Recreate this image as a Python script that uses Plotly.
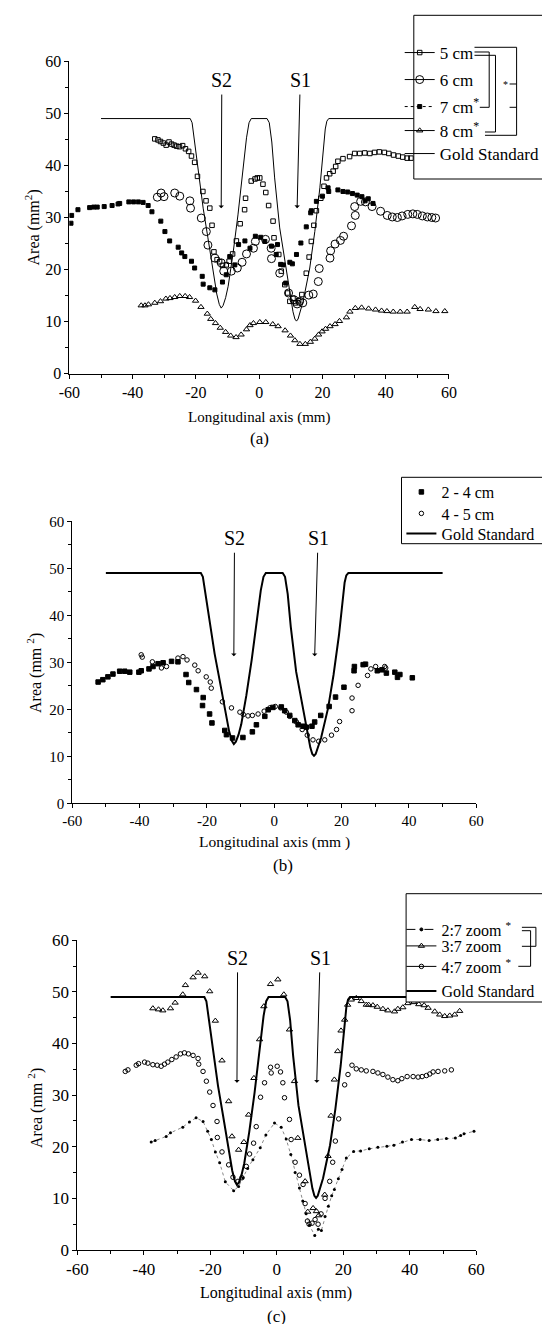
import plotly.graph_objects as go

W, H = 550, 1324
SERIF = "Liberation Serif, Times New Roman, serif"

# gold standard phantom profile (same in all panels)
GOLD_X = [-50, -21.8, -21.2, -20.6, -19.3, -17.7, -16.2, -14.6, -13.4, -12.6, -12.0, -11.4, -10.6, -9.8,
          -8.3, -6.7, -5.1, -4.0, -3.2, -2.5, 2.5, 3.2, 4.0, 4.9, 6.5, 8.1, 9.7, 10.7, 11.3, 11.8, 12.3,
          13.0, 13.9, 16.0, 17.6, 19.2, 20.2, 20.9, 21.4, 22.0, 50]
GOLD_Y = [49, 49, 48.2, 45.5, 38.9, 31.8, 26.1, 19.7, 15.3, 13.3, 12.6, 13.1, 14.6, 16.8,
          22.9, 30.5, 38.9, 45.3, 48.2, 49, 49, 48.2, 44.5, 37.6, 28.0, 21.6, 15.2, 11.9, 10.5, 10.1, 10.5,
          11.8, 13.9, 20.3, 27.3, 35.7, 43.3, 47.0, 48.5, 49, 49]

# panel (a)
A5_X = [-33.0, -32.0, -31.2, -30.3, -29.4, -28.5, -27.7, -26.9, -26.1, -25.2, -24.2, -23.3, -22.3, -21.4,
        -20.4, -19.5, -17.8, -16.8, -15.6, -14.9, -14.3, -13.3, -12.5, -11.6, -10.4, -9.5, -8.4, -7.2,
        -6.0, -4.6, -4.3, -2.5, -1.3, -0.6, 0.2, 1.2, 2.1, 3.0, 4.4, 4.7, 6.2, 7.0, 8.1, 9.0, 9.7, 10.7,
        11.5, 12.5, 13.5, 14.9, 15.8, 16.5, 17.3, 18.1, 19.5, 20.5, 21.3, 22.3, 23.4, 24.2, 24.9, 26.5,
        28.6, 30.2, 31.8, 33.4, 35.0, 36.5, 38.0, 39.6, 41.0, 42.5, 44.0, 45.4, 46.8, 48.0]
A5_Y = [45.1, 44.9, 44.6, 44.3, 43.9, 44.5, 44.1, 43.9, 43.7, 43.6, 43.8, 43.2, 42.7, 41.8,
        40.6, 37.9, 35.0, 33.2, 31.8, 28.5, 23.4, 21.9, 21.5, 20.8, 20.9, 21.6, 23.0, 25.5,
        28.8, 31.5, 33.7, 37.0, 37.4, 37.6, 37.6, 36.4, 34.8, 32.3, 29.3, 26.1, 22.9, 19.7, 17.1, 15.5, 13.9, 14.5,
        13.6, 14.0, 15.2, 19.3, 22.4, 25.4, 28.5, 31.3, 33.7, 36.0, 37.6, 38.4, 38.9, 39.8, 40.8, 41.3,
        41.7, 42.3, 42.3, 42.4, 42.3, 42.5, 42.6, 42.5, 42.3, 42.0, 41.8, 41.6, 41.4, 41.4]

A6_X = [-32.2, -31.0, -30.1, -26.7, -25.1, -21.9, -21.7, -18.3, -16.7, -16.2, -14.0, -12.0, -11.2, -8.8,
        -6.9, -5.4, -4.0, -1.8, -1.2, 2.0, 3.8, 3.9, 6.5, 9.3, 11.0, 12.0, 12.8, 13.8, 15.7, 17.1, 18.7,
        19.0, 22.4, 22.6, 24.0, 25.7, 26.7, 29.2, 30.4, 30.2, 32.1, 33.6, 35.7, 38.4, 40.5, 42.1, 43.7,
        45.2, 47.0, 48.6, 50.0, 51.6, 53.2, 54.6, 55.8]
A6_Y = [33.9, 34.7, 34.0, 34.7, 34.1, 33.2, 31.8, 29.9, 27.3, 24.7, 22.2, 21.3, 19.7, 19.7,
        20.3, 21.4, 23.0, 24.1, 25.4, 25.8, 24.1, 22.1, 19.3, 15.5, 14.2, 13.4, 13.9, 13.6, 15.1, 15.3, 17.7,
        20.2, 22.2, 23.6, 24.9, 25.6, 26.4, 28.4, 30.4, 32.1, 33.1, 33.0, 32.1, 31.2, 30.4, 30.1, 30.0,
        30.3, 30.6, 30.7, 30.6, 30.3, 30.1, 30.0, 29.9]

A7_X = [-59.5, -59.3, -57.3, -53.6, -52.3, -51.2, -49.0, -46.5, -44.6, -44.1, -41.2, -39.7, -38.2, -36.7,
        -35.1, -33.9, -31.1, -29.8, -28.3, -25.6, -24.5, -23.5, -21.4, -20.4, -18.0, -17.7, -15.6, -14.0,
        -11.6, -10.4, -9.3, -7.7, -6.5, -4.5, -2.9, -1.2, 0.5, 1.8, 3.9, 5.4, 5.8, 6.8, 7.6, 8.4, 9.7,
        10.5, 11.8, 13.2, 14.9, 16.3, 16.5, 18.1, 20.0, 21.8, 22.0, 24.9, 26.5, 28.0, 29.5, 31.0, 32.5,
        33.5, 34.5, 36.0]
A7_Y = [28.9, 30.4, 31.5, 31.9, 32.0, 32.0, 32.1, 32.3, 32.6, 32.7, 33.0, 33.0, 33.0, 32.9,
        32.3, 31.1, 29.3, 27.3, 25.5, 24.3, 23.2, 22.5, 21.6, 20.3, 18.7, 17.2, 16.5, 16.1,
        17.6, 19.0, 22.5, 20.9, 24.8, 25.5, 24.1, 26.4, 26.2, 25.4, 24.5, 22.9, 24.8, 21.0, 20.9, 17.4, 21.4,
        21.1, 22.9, 25.1, 28.2, 30.9, 31.3, 33.1, 34.1, 35.7, 35.0, 35.3, 35.0, 34.9, 34.6, 34.3, 34.0,
        33.2, 33.6, 32.7]

A8_X = [-37.3, -36.1, -35.0, -33.0, -31.2, -29.5, -28.2, -26.7, -25.1, -23.4, -22.0, -20.1, -18.4, -16.4,
        -15.3, -13.8, -12.3, -10.6, -9.0, -7.3, -5.7, -4.0, -2.9, -1.8, 0.2, 2.1, 4.3, 6.0, 8.2, 9.9,
        11.3, 12.9, 14.6, 16.2, 17.6, 18.8, 19.9, 21.0, 22.4, 24.0, 25.4, 27.6, 28.7, 30.4, 32.4, 34.6,
        36.8, 38.7, 40.4, 42.4, 44.6, 46.8, 49.2, 50.9, 53.5, 55.9, 58.7]
A8_Y = [13.1, 13.1, 13.3, 13.6, 13.9, 14.4, 14.5, 14.7, 14.9, 14.9, 14.7, 14.0, 12.8, 11.5,
        10.5, 9.7, 8.8, 8.0, 7.3, 7.0, 7.5, 8.5, 9.3, 9.7, 9.9, 9.9, 9.5, 9.1, 8.3, 7.3,
        6.4, 5.7, 5.7, 6.1, 6.7, 7.5, 8.1, 8.6, 9.1, 9.5, 10.1, 10.8, 11.9, 12.6, 12.7, 12.5,
        12.3, 12.1, 12.0, 11.9, 11.9, 11.9, 12.8, 12.4, 12.3, 12.0, 12.0]

# panel (b)
B24_X = [-52.3, -50.9, -49.4, -47.9, -45.9, -44.4, -42.9, -40.2, -39.5, -37.2, -36.0, -34.5, -33.0, -30.5,
         -28.6, -26.2, -25.4, -23.1, -21.1, -21.3, -19.2, -18.5, -14.7, -14.2, -12.4, -9.3, -6.5, -5.3,
         -2.8, -1.8, -0.4, 2.1, 3.1, 4.6, 6.1, 7.1, 8.6, 9.5, 11.2, 12.0, 13.8, 16.3, 18.2, 20.7, 23.7,
         23.8, 26.4, 27.1, 30.6, 32.0, 33.3, 35.8, 36.6, 37.3, 41.0]
B24_Y = [25.8, 26.3, 26.9, 27.5, 28.1, 28.1, 27.9, 27.9, 28.2, 28.6, 29.1, 29.7, 29.9, 30.2,
         30.1, 27.4, 25.7, 24.2, 22.5, 20.8, 19.0, 17.1, 15.5, 14.6, 13.9, 14.0, 15.2, 16.7,
         18.5, 19.9, 20.4, 20.5, 19.7, 18.7, 17.6, 16.7, 16.4, 16.2, 16.4, 17.3, 18.7, 20.6, 22.6, 24.7, 28.2,
         29.1, 29.5, 29.6, 28.2, 28.4, 27.7, 27.9, 26.8, 27.4, 26.7]

B45_X = [-39.5, -39.2, -36.2, -33.5, -32.0, -28.6, -27.1, -25.9, -23.6, -22.6, -20.2, -19.0, -18.7, -15.4,
         -12.7, -10.2, -9.2, -7.8, -6.5, -4.8, -3.0, -1.3, 0.3, 1.9, 3.6, 4.6, 6.6, 8.3, 9.8, 11.5, 13.2,
         15.0, 17.0, 18.5, 19.4, 23.1, 23.1, 24.9, 27.7, 28.7, 30.1, 32.8, 33.1]
B45_Y = [31.6, 31.1, 30.1, 28.8, 29.1, 30.9, 31.2, 30.5, 29.4, 28.2, 26.9, 25.8, 24.5, 21.6,
         20.3, 19.4, 18.9, 18.6, 18.7, 19.0, 19.6, 20.3, 20.6, 20.3, 19.4, 18.5, 17.3, 15.7, 14.5, 13.5, 13.2,
         13.5, 14.5, 15.7, 17.4, 19.7, 22.4, 25.1, 27.2, 28.6, 29.1, 29.1, 28.8]

# panel (c)
C27_X = [-37.8, -36.6, -33.3, -32.0, -28.3, -26.3, -24.3, -22.2, -20.8, -19.7, -18.5, -17.2, -15.5, -13.0,
         -11.5, -10.2, -8.8, -7.2, -5.0, -3.3, -0.7, 1.3, 2.8, 4.2, 5.5, 6.8, 7.8, 8.8, 9.8, 11.4, 12.5,
         13.4, 14.5, 15.5, 16.5, 17.3, 18.5, 19.6, 20.9, 23.1, 25.2, 27.8, 30.4, 33.1, 35.2, 37.8, 40.5,
         43.1, 45.8, 48.4, 51.0, 53.7, 55.3, 56.3, 59.3]
C27_Y = [20.9, 21.2, 22.0, 22.7, 23.8, 24.8, 25.6, 24.9, 23.0, 21.4, 19.0, 16.9, 13.2, 11.5,
         12.3, 14.0, 15.8, 17.5, 19.8, 22.3, 24.6, 23.8, 21.5, 18.5, 15.0, 12.0, 9.5, 7.0, 4.8, 2.8, 4.0,
         3.8, 6.5, 8.5, 10.5, 11.7, 13.8, 15.6, 17.8, 19.1, 19.2, 19.6, 19.9, 20.1, 20.3, 20.9, 21.4,
         21.4, 21.2, 21.4, 21.6, 21.7, 22.2, 22.5, 23.0]

C37_X = [-37.3, -35.6, -34.3, -32.0, -30.6, -28.3, -27.5, -25.2, -23.7, -21.7, -20.2, -18.5, -16.5, -14.5,
         -13.5, -11.5, -9.9, -8.5, -6.9, -5.2, -3.9, -1.9, 0.3, 2.1, 3.8, 5.3, 6.3, 8.5, 9.3, 10.9, 11.9,
         12.6, 14.4, 15.4, 16.3, 17.3, 18.3, 19.3, 20.4, 21.3, 22.4, 23.9, 25.4, 26.9, 27.6, 28.9, 30.2,
         31.9, 33.4, 35.4, 36.4, 37.9, 39.4, 41.2, 42.7, 44.3, 45.5, 47.5, 49.0, 50.5, 52.0, 53.5, 55.0]
C37_Y = [46.8, 46.6, 46.4, 46.8, 47.9, 49.5, 51.3, 52.8, 53.7, 53.0, 50.1, 44.4, 36.7, 28.8,
         22.0, 19.4, 20.9, 26.2, 33.3, 40.8, 47.2, 51.5, 52.4, 49.5, 42.7, 32.7, 21.7, 13.3, 7.4, 8.1, 7.5,
         6.7, 10.7, 18.2, 26.0, 33.0, 38.5, 42.5, 44.6, 47.5, 48.5, 48.8, 48.2, 47.5, 47.5, 47.4, 47.1,
         46.7, 46.4, 46.2, 46.7, 47.0, 47.8, 48.0, 47.6, 47.4, 46.9, 46.2, 45.6, 45.3, 45.4, 45.6, 46.3]

C47_X = [-45.6, -44.8, -42.3, -41.6, -39.8, -38.8, -37.3, -36.0, -34.8, -33.8, -32.8, -31.6, -30.3, -29.0,
         -27.8, -26.6, -25.2, -23.7, -23.5, -22.2, -21.2, -20.2, -19.2, -18.0, -17.9, -16.5, -14.5, -13.2,
         -11.7, -10.5, -9.2, -8.2, -7.0, -6.2, -4.9, -3.7, -1.9, -1.7, 0.1, 1.1, 1.8, 2.3, 3.8, 4.3, 5.5,
         6.8, 7.9, 8.5, 9.2, 9.7, 10.6, 11.5, 12.4, 13.3, 14.5, 15.9, 16.8, 17.6, 18.6, 20.4, 21.4, 22.6,
         23.9, 25.4, 26.9, 28.9, 30.4, 31.9, 33.4, 34.9, 36.4, 37.6, 39.2, 41.0, 42.5, 43.7, 45.0, 46.0,
         47.0, 48.5, 50.5, 52.5]
C47_Y = [34.6, 34.9, 35.8, 36.1, 36.4, 36.2, 35.9, 35.8, 35.6, 36.0, 36.4, 36.9, 37.4, 38.0,
         38.2, 38.0, 37.7, 37.1, 36.0, 34.6, 32.7, 30.6, 28.0, 24.9, 21.8, 19.0, 16.5, 14.1,
         13.3, 14.0, 16.2, 18.6, 20.7, 23.9, 29.6, 32.4, 35.4, 34.3, 35.6, 34.5, 32.4, 29.5, 25.3, 21.4, 17.0,
         14.5, 12.7, 9.0, 5.6, 5.0, 5.2, 5.9, 5.0, 7.0, 10.0, 13.3, 17.0, 21.1, 25.4, 32.0, 34.0, 35.8,
         35.1, 34.9, 34.7, 34.6, 34.3, 34.0, 33.5, 33.0, 32.8, 33.2, 33.6, 33.6, 33.5, 33.6, 33.8, 34.1,
         34.5, 34.6, 34.7, 34.9]

X_TICKS = [-60, -40, -20, 0, 20, 40, 60]
X_TICK_TEXT = ["-60", "-40", "-20", "0", "20", "40", "60"]
Y_TICKS = [0, 10, 20, 30, 40, 50, 60]

# stenosis positions (mm)
S2_X, S1_X = -12, 12


def px_x(p):
    return p / W


def px_y(p):
    return 1 - p / H


def path(points):
    return "M " + " L ".join(f"{px_x(a):.5f},{px_y(b):.5f}" for a, b in points)


fig = go.Figure()

# ---- panel (a)
fig.add_trace(go.Scatter(x=GOLD_X, y=GOLD_Y, mode="lines", line=dict(color="black", width=1),
                         showlegend=False, xaxis="x", yaxis="y"))
mk_a = [
    (A5_X, A5_Y, "5 cm", dict(symbol="square-open", size=4.5), "solid"),
    (A6_X, A6_Y, "6 cm", dict(symbol="circle-open", size=8), "solid"),
    (A7_X, A7_Y, "7 cm<sup>*</sup>", dict(symbol="square", size=4), "dot"),
    (A8_X, A8_Y, "8 cm<sup>*</sup>", dict(symbol="triangle-up-open", size=5.5), "solid"),
]
for i, (xs, ys, name, m, dash) in enumerate(mk_a):
    m = dict(m, color="black", line=dict(color="black", width=1))
    fig.add_trace(go.Scatter(x=xs, y=ys, mode="markers", marker=m, showlegend=False, xaxis="x", yaxis="y"))
    fig.add_trace(go.Scatter(x=[None], y=[None], mode="lines+markers", name=name, marker=m,
                             line=dict(color="black", width=1, dash=dash),
                             legend="legend" if i == 0 else f"legend{i + 1}", xaxis="x", yaxis="y"))
fig.add_trace(go.Scatter(x=[None], y=[None], mode="lines", name="Gold Standard",
                         line=dict(color="black", width=1), legend="legend5", xaxis="x", yaxis="y"))

# ---- panel (b)
fig.add_trace(go.Scatter(x=GOLD_X, y=GOLD_Y, mode="lines", line=dict(color="black", width=2),
                         name="Gold Standard", legend="legend8", xaxis="x2", yaxis="y2"))
mk_b = [
    (B24_X, B24_Y, "2 - 4 cm", dict(symbol="square", size=4.5)),
    (B45_X, B45_Y, "4 - 5 cm", dict(symbol="circle-open", size=4.5)),
]
for i, (xs, ys, name, m) in enumerate(mk_b):
    m = dict(m, color="black", line=dict(color="black", width=1))
    fig.add_trace(go.Scatter(x=xs, y=ys, mode="markers", marker=m, name=name,
                             legend=f"legend{6 + i}", xaxis="x2", yaxis="y2"))

# ---- panel (c)
fig.add_trace(go.Scatter(x=GOLD_X, y=GOLD_Y, mode="lines", line=dict(color="black", width=2),
                         showlegend=False, xaxis="x3", yaxis="y3"))
fig.add_trace(go.Scatter(x=C27_X, y=C27_Y, mode="lines+markers",
                         line=dict(color="#888", width=1, dash="dot"),
                         marker=dict(symbol="circle", size=3, color="black"),
                         showlegend=False, xaxis="x3", yaxis="y3"))
mk_c = [
    (C37_X, C37_Y, dict(symbol="triangle-up-open", size=5.5)),
    (C47_X, C47_Y, dict(symbol="circle-open", size=4.5)),
]
for xs, ys, m in mk_c:
    m = dict(m, color="black", line=dict(color="black", width=1))
    fig.add_trace(go.Scatter(x=xs, y=ys, mode="markers", marker=m, showlegend=False, xaxis="x3", yaxis="y3"))
leg_c = [
    ("2:7 zoom <sup>*</sup>", dict(symbol="circle", size=3), "dash"),
    ("3:7 zoom", dict(symbol="triangle-up-open", size=5.5), "solid"),
    ("4:7 zoom <sup>*</sup>", dict(symbol="circle-open", size=4.5), "solid"),
]
for i, (name, m, dash) in enumerate(leg_c):
    m = dict(m, color="black", line=dict(color="black", width=1))
    fig.add_trace(go.Scatter(x=[None], y=[None], mode="lines+markers", name=name, marker=m,
                             line=dict(color="black", width=1, dash=dash),
                             legend=f"legend{9 + i}", xaxis="x3", yaxis="y3"))
fig.add_trace(go.Scatter(x=[None], y=[None], mode="lines", name="Gold Standard",
                         line=dict(color="black", width=2), legend="legend12", xaxis="x3", yaxis="y3"))


def xaxis(domain, anchor, size):
    return dict(domain=domain, anchor=anchor, range=[-60, 60], tickvals=X_TICKS, ticktext=X_TICK_TEXT,
                showline=True, linecolor="black", linewidth=1, ticks="outside", ticklen=4,
                tickcolor="black", showgrid=False, zeroline=False,
                tickfont=dict(family=SERIF, size=size, color="black"),
                minor=dict(tick0=-60, dtick=10, ticks="outside", ticklen=3, tickcolor="black"))


def yaxis(domain, anchor, size):
    return dict(domain=domain, anchor=anchor, range=[0, 60], tickvals=Y_TICKS,
                showline=True, linecolor="black", linewidth=1, ticks="outside", ticklen=4,
                tickcolor="black", showgrid=False, zeroline=False,
                tickfont=dict(family=SERIF, size=size, color="black"),
                minor=dict(tick0=0, dtick=5, ticks="outside", ticklen=3, tickcolor="black"))


# legends: one per entry so each row sits where it does in the figure
leg_rows = [
    (391.7, 45, 17), (391.7, 72, 17), (391.7, 99, 17), (391.7, 123, 17), (391.7, 146, 17),
    (393.4, 484, 16), (393.4, 505.5, 16), (393.4, 525.5, 16),
    (393.4, 921.5, 16), (393.4, 938, 16), (393.4, 958.5, 16), (393.4, 983, 16),
]
legends = {}
for i, (lx, ly, fs) in enumerate(leg_rows):
    key = "legend" if i == 0 else f"legend{i + 1}"
    legends[key] = dict(x=px_x(lx), y=px_y(ly), xanchor="left", yanchor="middle",
                        bgcolor="rgba(0,0,0,0)", borderwidth=0,
                        font=dict(family=SERIF, size=fs, color="black"))

shapes = []
for x0, y0, y1 in [(405.8, 7.3, 171), (393.5, 469.3, 535.7), (398.1, 885.7, 994)]:
    shapes.append(dict(type="rect", xref="paper", yref="paper", x0=px_x(x0), x1=px_x(549.5),
                       y0=px_y(y1), y1=px_y(y0), fillcolor="white",
                       line=dict(color="black", width=1), layer="above"))
brackets = [
    [(466.5, 44), (481.2, 44), (481.2, 99.3), (471.8, 99.3)],
    [(466.5, 47.3), (487.5, 47.3), (487.5, 124), (477, 124)],
    [(466.5, 39.3), (508.6, 39.3), (508.6, 127.3), (477, 127.3)],
    [(501.6, 76), (508.6, 76)],
    [(501.6, 99.3), (508.6, 99.3)],
    [(513.9, 919.3), (527.9, 919.3), (527.9, 938.3), (513.9, 938.3)],
    [(513.9, 922.7), (522.6, 922.7), (522.6, 958.3), (510.3, 958.3)],
]
for b in brackets:
    shapes.append(dict(type="path", xref="paper", yref="paper", path=path(b),
                       line=dict(color="black", width=1), layer="above"))

ann = []


def add_text(text, x, y, size, angle=0):
    ann.append(dict(text=text, x=px_x(x), y=px_y(y), xref="paper", yref="paper", showarrow=False,
                    xanchor="center", yanchor="middle", textangle=angle,
                    font=dict(family=SERIF, size=size, color="black")))


add_text("*", 497, 77, 10)
# S2 / S1 labels with their arrows (label at arrow tail)
for ax_, (y_label, y_bot) in zip(["", "2", "3"], [(56.4, 31.8), (56.4, 31.3), (56.6, 32.4)]):
    for xs, lab, dx in [(S2_X, "S2", 0.2), (S1_X, "S1", 1.0)]:
        ann.append(dict(text=lab, x=xs, y=y_bot, ax=xs + dx, ay=y_label,
                        xref="x" + ax_, yref="y" + ax_, axref="x" + ax_, ayref="y" + ax_,
                        showarrow=True, arrowhead=1, arrowsize=0.9, arrowwidth=1,
                        arrowcolor="black", borderpad=3,
                        font=dict(family=SERIF, size=20, color="black")))

add_text("Area (mm<sup>2</sup>)", 24.5, 220, 16, -90)
add_text("Area (mm <sup>2</sup>)", 27, 665, 16, -90)
add_text("Area (mm <sup>2</sup>)", 27, 1100, 16, -90)
add_text("Longitudinal axis (mm)", 251, 409, 15)
add_text("Longitudinal axis (mm )", 266.6, 834, 15.5)
add_text("Longitudinal axis (mm)", 268.3, 1285, 16)
add_text("(a)", 251, 431, 17)
add_text("(b)", 275.3, 857, 17)
add_text("(c)", 268.3, 1308, 17)

fig.update_layout(
    width=W, height=H, margin=dict(l=0, r=0, t=0, b=0, autoexpand=False),
    paper_bgcolor="white", plot_bgcolor="white",
    xaxis=xaxis([px_x(61.4), px_x(440.9)], "y", 16),
    yaxis=yaxis([px_y(365.7), px_y(53.3)], "x", 16),
    xaxis2=xaxis([px_x(64.2), px_x(468.3)], "y2", 15),
    yaxis2=yaxis([px_y(795.3), px_y(513.3)], "x2", 15),
    xaxis3=xaxis([px_x(69.4), px_x(468.3)], "y3", 17),
    yaxis3=yaxis([px_y(1242), px_y(932.3)], "x3", 17),
    shapes=shapes, annotations=ann,
    **legends,
)

fig.write_html("out.html")
